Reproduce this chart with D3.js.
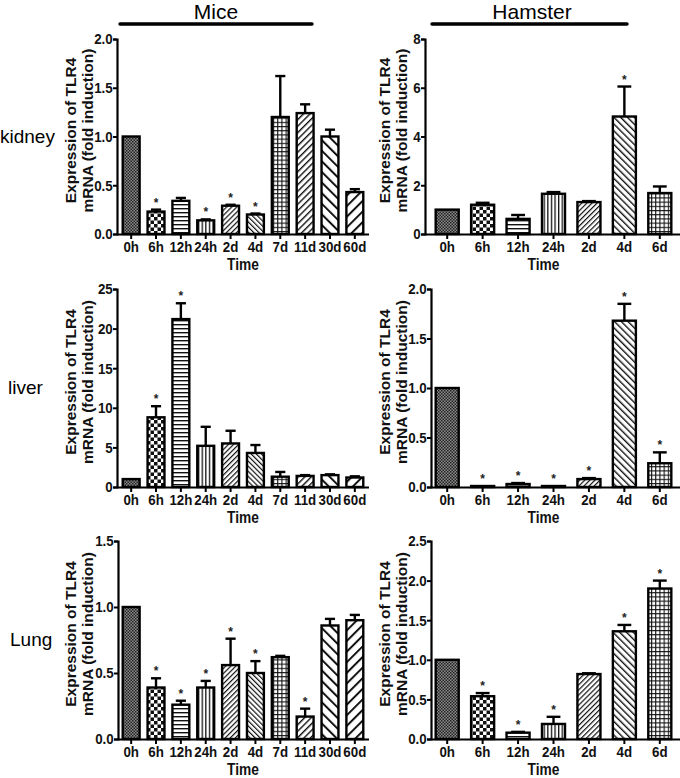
<!DOCTYPE html>
<html><head><meta charset="utf-8">
<script src="https://cdn.jsdelivr.net/npm/d3@7"></script>
<style>
html,body{margin:0;padding:0;background:#fff;}
svg{display:block;}
</style></head>
<body><svg id="chart" width="680" height="778"></svg>
<script>
// ---------- DATA ----------
const miceTimes = ["0h","6h","12h","24h","2d","4d","7d","11d","30d","60d"];
const hamsterTimes = ["0h","6h","12h","24h","2d","4d","6d"];

const miceKidneyMean = [1.00,0.23,0.34,0.14,0.29,0.20,1.20,1.24,1.00,0.43];
const miceKidneyErr  = [0.00,0.02,0.03,0.01,0.01,0.01,0.42,0.09,0.07,0.03];
const miceKidneyStar = [0,1,0,1,1,1,0,0,0,0];

const hamsterKidneyMean = [1.00,1.20,0.62,1.65,1.31,4.82,1.68];
const hamsterKidneyErr  = [0.00,0.08,0.16,0.07,0.04,1.23,0.27];
const hamsterKidneyStar = [0,0,0,0,0,1,0];

const miceLiverMean = [1.0,8.8,21.2,5.2,5.5,4.3,1.3,1.4,1.5,1.2];
const miceLiverErr  = [0.0,1.4,2.0,2.4,1.6,1.0,0.6,0.1,0.1,0.15];
const miceLiverStar = [0,1,1,0,0,0,0,0,0,0];

const hamsterLiverMean = [1.00,0.01,0.03,0.01,0.08,1.68,0.24];
const hamsterLiverErr  = [0.00,0.00,0.01,0.00,0.01,0.17,0.11];
const hamsterLiverStar = [0,1,1,1,1,1,1];

const miceLungMean = [1.00,0.39,0.26,0.39,0.56,0.50,0.62,0.17,0.86,0.90];
const miceLungErr  = [0.00,0.07,0.03,0.05,0.20,0.09,0.01,0.06,0.05,0.04];
const miceLungStar = [0,1,1,1,1,1,0,1,0,0];

const hamsterLungMean = [1.00,0.54,0.08,0.19,0.82,1.36,1.90];
const hamsterLungErr  = [0.00,0.04,0.01,0.09,0.01,0.08,0.10];
const hamsterLungStar = [0,1,1,1,0,1,1];

const miceKidneyTicks = [0,0.5,1.0,1.5,2.0];
const hamsterKidneyTicks = [0,2,4,6,8];
const miceLiverTicks = [0,5,10,15,20,25];
const hamsterLiverTicks = [0,0.5,1.0,1.5,2.0];
const miceLungTicks = [0,0.5,1.0,1.5];
const hamsterLungTicks = [0,0.5,1.0,1.5,2.0,2.5];

const speciesTitles = ["Mice","Hamster"];
const organLabels = ["kidney","liver","Lung"];
const yLabelLines = ["Expression of TLR4","mRNA (fold induction)"];
const xLabel = "Time";

// pattern per bar category (style)
const micePatterns = ["fineCheck","check","hlines","vlines","diagA","diagB","grid","diagC","wideB","wideA"];
const hamsterPatterns = ["fineCheck","check","hlines","vlines","diagA","diagD","grid"];

// ---------- LAYOUT ----------
const svg = d3.select("#chart");
const sans = "'Liberation Sans',Arial,Helvetica,sans-serif";
const NARROW = 0.86; // horizontal compression to mimic a narrow bold face

const cols = [
  {b0:117, b1:369, pIn:0.32, pOut:0.23, axisX:[117,117,118], yl1:71, yl2:88, cats:miceTimes, pats:micePatterns, tShift:0},
  {b0:427, b1:680, pIn:0.35, pOut:0.245, axisX:[425,431,431], yl1:385, yl2:402, cats:hamsterTimes, pats:hamsterPatterns, tShift:-10}
];
const rows = [{top:39,bottom:234},{top:289,bottom:487},{top:541,bottom:739}];

const panels = [
  {r:0,c:0,mean:miceKidneyMean,err:miceKidneyErr,star:miceKidneyStar,ticks:miceKidneyTicks,fmt:".1f"},
  {r:0,c:1,mean:hamsterKidneyMean,err:hamsterKidneyErr,star:hamsterKidneyStar,ticks:hamsterKidneyTicks,fmt:"d"},
  {r:1,c:0,mean:miceLiverMean,err:miceLiverErr,star:miceLiverStar,ticks:miceLiverTicks,fmt:"d"},
  {r:1,c:1,mean:hamsterLiverMean,err:hamsterLiverErr,star:hamsterLiverStar,ticks:hamsterLiverTicks,fmt:".1f"},
  {r:2,c:0,mean:miceLungMean,err:miceLungErr,star:miceLungStar,ticks:miceLungTicks,fmt:".1f"},
  {r:2,c:1,mean:hamsterLungMean,err:hamsterLungErr,star:hamsterLungStar,ticks:hamsterLungTicks,fmt:".1f"}
];

// ---------- PATTERNS ----------
const defs = svg.append("defs");
function pat(id, w, h, draw, rot){
  const p = defs.append("pattern").attr("id",id).attr("patternUnits","userSpaceOnUse")
    .attr("width",w).attr("height",h);
  if (rot) p.attr("patternTransform",`rotate(${rot})`);
  p.append("rect").attr("width",w).attr("height",h).attr("fill","#fff");
  draw(p);
}
pat("fineCheck",3,3,p=>{
  p.append("rect").attr("width",3).attr("height",3).attr("fill","#8a8a8a");
  p.append("rect").attr("x",0).attr("y",0).attr("width",1.5).attr("height",1.5).attr("fill","#222");
  p.append("rect").attr("x",1.5).attr("y",1.5).attr("width",1.5).attr("height",1.5).attr("fill","#222");
});
pat("check",7,7,p=>{
  p.append("rect").attr("x",0).attr("y",0).attr("width",3.5).attr("height",3.5).attr("fill","#111");
  p.append("rect").attr("x",3.5).attr("y",3.5).attr("width",3.5).attr("height",3.5).attr("fill","#111");
});
pat("hlines",4,4,p=>{
  p.append("rect").attr("x",0).attr("y",0).attr("width",4).attr("height",1.4).attr("fill","#111");
});
pat("vlines",3.6,4,p=>{
  p.append("rect").attr("x",0).attr("y",0).attr("width",1.3).attr("height",4).attr("fill","#111");
});
pat("grid",4.2,4.2,p=>{
  p.append("rect").attr("x",0).attr("y",0).attr("width",4.2).attr("height",1.1).attr("fill","#111");
  p.append("rect").attr("x",0).attr("y",0).attr("width",1.1).attr("height",4.2).attr("fill","#111");
});
function diag(id, spacing, thick, angle){
  pat(id, spacing, 10, p=>{
    p.append("rect").attr("x",0).attr("y",0).attr("width",thick).attr("height",10).attr("fill","#111");
  }, angle);
}
diag("diagA",3.6,1.2,45);
diag("diagB",3.6,1.2,-45);
diag("diagC",4.6,1.4,45);
diag("diagD",4.8,1.4,-45);
diag("wideB",7.5,2.0,-45);
diag("wideA",7.5,2.0,45);

// ---------- TITLES ----------
const titleBars = [{x1:120,x2:312,cx:216},{x1:432,x2:627,cx:532}];
speciesTitles.forEach((t,i)=>{
  svg.append("text").attr("x",titleBars[i].cx).attr("y",19)
    .attr("text-anchor","middle").attr("font-family",sans).attr("font-size",21).attr("fill","#000").text(t);
  svg.append("line").attr("x1",titleBars[i].x1).attr("x2",titleBars[i].x2).attr("y1",24).attr("y2",24)
    .attr("stroke","#000").attr("stroke-width",3.5).attr("stroke-linecap","round");
});
const organX = [0,8,10];
organLabels.forEach((t,i)=>{
  const r = rows[i];
  svg.append("text").attr("x",organX[i]).attr("y",(r.top+r.bottom)/2 + 1)
    .attr("dominant-baseline","middle").attr("font-family",sans).attr("font-size",19)
    .attr("fill","#000").text(t);
});

// ---------- PANELS ----------
panels.forEach(P=>{
  const col = cols[P.c], row = rows[P.r];
  const ax = col.axisX[P.r];
  const g = svg.append("g");
  const x = d3.scaleBand().domain(col.cats).range([col.b0, col.b1])
    .paddingInner(col.pIn).paddingOuter(col.pOut);
  const y = d3.scaleLinear().domain([0, d3.max(P.ticks)]).range([row.bottom, row.top]);
  const data = col.cats.map((c,i)=>({c, m:P.mean[i], e:P.err[i], s:P.star[i], p:col.pats[i]}));

  // bars
  g.selectAll("rect.bar").data(data).join("rect").attr("class","bar")
    .attr("x",d=>x(d.c)).attr("width",x.bandwidth())
    .attr("y",d=>y(d.m)).attr("height",d=>row.bottom - y(d.m))
    .attr("fill",d=>`url(#${d.p})`).attr("stroke","#000").attr("stroke-width",2.4);

  // error bars (upper only)
  const capW = x.bandwidth()*0.6;
  const eb = data.filter(d=>d.e > 0.001);
  g.selectAll("line.ev").data(eb).join("line")
    .attr("x1",d=>x(d.c)+x.bandwidth()/2).attr("x2",d=>x(d.c)+x.bandwidth()/2)
    .attr("y1",d=>y(d.m)).attr("y2",d=>y(d.m+d.e)).attr("stroke","#000").attr("stroke-width",2.4);
  g.selectAll("line.ec").data(eb).join("line")
    .attr("x1",d=>x(d.c)+x.bandwidth()/2-capW/2).attr("x2",d=>x(d.c)+x.bandwidth()/2+capW/2)
    .attr("y1",d=>y(d.m+d.e)).attr("y2",d=>y(d.m+d.e)).attr("stroke","#000").attr("stroke-width",2.4);

  // stars
  g.selectAll("text.star").data(data.filter(d=>d.s)).join("text")
    .attr("x",d=>x(d.c)+x.bandwidth()/2).attr("y",d=>y(d.m+d.e)-3)
    .attr("text-anchor","middle").attr("font-family",sans).attr("font-weight","bold")
    .attr("font-size",12).attr("fill","#222").text("*");

  // y axis
  const ya = d3.axisLeft(y).tickValues(P.ticks).tickFormat(d3.format(P.fmt)).tickSizeOuter(0).tickSize(4).tickPadding(1);
  const yg = g.append("g").attr("transform",`translate(${ax},0)`).call(ya);
  // x axis
  const xa = d3.axisBottom(x).tickSizeOuter(0).tickSize(5).tickPadding(2);
  const xg = g.append("g").attr("transform",`translate(0,${row.bottom})`).call(xa);
  [yg,xg].forEach(a=>{
    a.select(".domain").attr("stroke","#000").attr("stroke-width",2.2);
    a.selectAll(".tick line").attr("stroke","#000").attr("stroke-width",2);
    a.selectAll(".tick text").attr("font-family",sans).attr("font-weight","bold")
      .attr("font-size",15.5).attr("fill","#111").attr("transform",`scale(${NARROW},1)`);
  });
  xg.select(".domain").attr("d",`M${ax},0.5H${col.b1}`);

  // axis titles
  const tx = (col.b0 + col.b1)/2 + col.tShift;
  g.append("text").attr("transform",`translate(${tx},${row.bottom + 36}) scale(${NARROW},1)`)
    .attr("text-anchor","middle").attr("font-family",sans).attr("font-weight","bold")
    .attr("font-size",16).attr("fill","#111").text(xLabel);
  const cy = (row.top + row.bottom)/2 - 6;
  [col.yl1, col.yl2].forEach((xx,i)=>{
    g.append("text").attr("transform",`translate(${xx + 5},${cy}) rotate(-90)`)
      .attr("text-anchor","middle").attr("font-family",sans).attr("font-weight","bold")
      .attr("font-size",15.5).attr("fill","#111").text(yLabelLines[i]);
  });
});
</script></body></html>
